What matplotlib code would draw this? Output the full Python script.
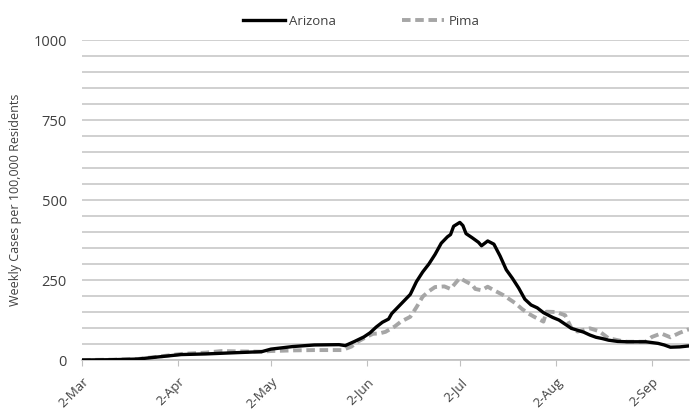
import numpy as np
import matplotlib
matplotlib.use('Agg')
import matplotlib.pyplot as plt
from datetime import date, timedelta

# days since 2-Mar-2020
az_days = [0, 10, 18, 25, 32, 40, 50, 58, 61, 68, 75, 83, 85, 88, 91, 93, 95, 97, 99, 100,
           102, 104, 106, 108, 110, 112, 114, 116, 118, 119, 120, 122, 123, 124, 126, 128, 129,
           131, 133, 135, 137, 139, 141, 143, 145, 147, 149, 152, 154, 156, 158, 160, 162, 164,
           166, 168, 170, 173, 176, 182, 186, 188, 190, 193, 196]
az_vals = [0, 1, 3, 10, 17, 19, 23, 26, 34, 42, 47, 48, 45, 58, 72, 85, 103, 118, 128, 145,
           165, 185, 205, 245, 275, 300, 330, 365, 385, 392, 418, 430, 420, 395, 382, 368, 357,
           372, 362, 325, 282, 255, 225, 190, 172, 163, 148, 133, 125, 112, 99, 93, 87, 78,
           71, 67, 62, 58, 57, 57, 52, 47, 40, 41, 44]

pima_days = [0, 10, 18, 25, 32, 40, 45, 50, 58, 61, 68, 75, 84, 87, 89, 92, 94, 96, 98, 101,
             103, 106, 108, 110, 112, 114, 117, 119, 121, 122, 124, 126, 127, 129, 131, 133, 136,
             138, 140, 142, 144, 146, 148, 149, 150, 153, 156, 158, 160, 164, 167, 170, 174, 176,
             182, 184, 187, 190, 193, 196]
pima_vals = [0, 1, 3, 11, 19, 23, 28, 27, 26, 28, 30, 31, 31, 42, 57, 73, 82, 83, 88, 105,
             120, 135, 165, 198, 215, 228, 230, 222, 245, 256, 245, 235, 222, 218, 229, 218, 203,
             190, 177, 160, 146, 135, 125, 120, 151, 150, 140, 100, 89, 99, 90, 68, 60, 57,
             57, 72, 83, 71, 85, 96]

tick_labels = ['2-Mar', '2-Apr', '2-May', '2-Jun', '2-Jul', '2-Aug', '2-Sep']

start = date(2020, 3, 2)
az_x = [start + timedelta(days=d) for d in az_days]
pima_x = [start + timedelta(days=d) for d in pima_days]
tick_dates = [date(2020, m, 2) for m in range(3, 10)]

plt.rcParams['font.family'] = ['Open Sans', 'DejaVu Sans']

fig = plt.figure(figsize=(6.97, 4.19), dpi=100)
ax = fig.add_axes([0.1177, 0.1408, 0.8708, 0.7637])

ax.plot(az_x, az_vals, color='black', lw=2.4, label='Arizona', zorder=3)
ax.plot(pima_x, pima_vals, color='#a6a6a6', lw=2.8, ls=(0, (2.2, 1.2)), label='Pima', zorder=2)

ax.set_xlim(start, start + timedelta(days=196))
ax.set_ylim(0, 1000)
ax.set_yticks([0, 250, 500, 750, 1000])
ax.set_yticks(np.arange(0, 1001, 50), minor=True)
ax.yaxis.grid(True, which='both', color='#d0d0d0', lw=1.4)
ax.set_axisbelow(True)
ax.tick_params(axis='y', which='both', length=0, labelsize=10.5, labelcolor='#404040', pad=11)

ax.set_xticks(tick_dates)
ax.set_xticklabels(tick_labels, rotation=45, ha='right', rotation_mode='anchor')
ax.tick_params(axis='x', length=4, color='#c0c0c0', labelsize=9.5, labelcolor='#404040', pad=7)

for s in ['top', 'right', 'left']:
    ax.spines[s].set_visible(False)
ax.spines['bottom'].set_color('#c0c0c0')
ax.spines['bottom'].set_linewidth(1.2)

ax.set_ylabel('Weekly Cases per 100,000 Residents', fontsize=9, color='#404040', labelpad=8)

leg = ax.legend(loc='upper center', bbox_to_anchor=(0.46, 1.115), ncol=2, frameon=False,
                fontsize=9.5, handlelength=3.2, handletextpad=0.3, columnspacing=5)
for t in leg.get_texts():
    t.set_color('#404040')

fig.savefig('out.png', dpi=100)
